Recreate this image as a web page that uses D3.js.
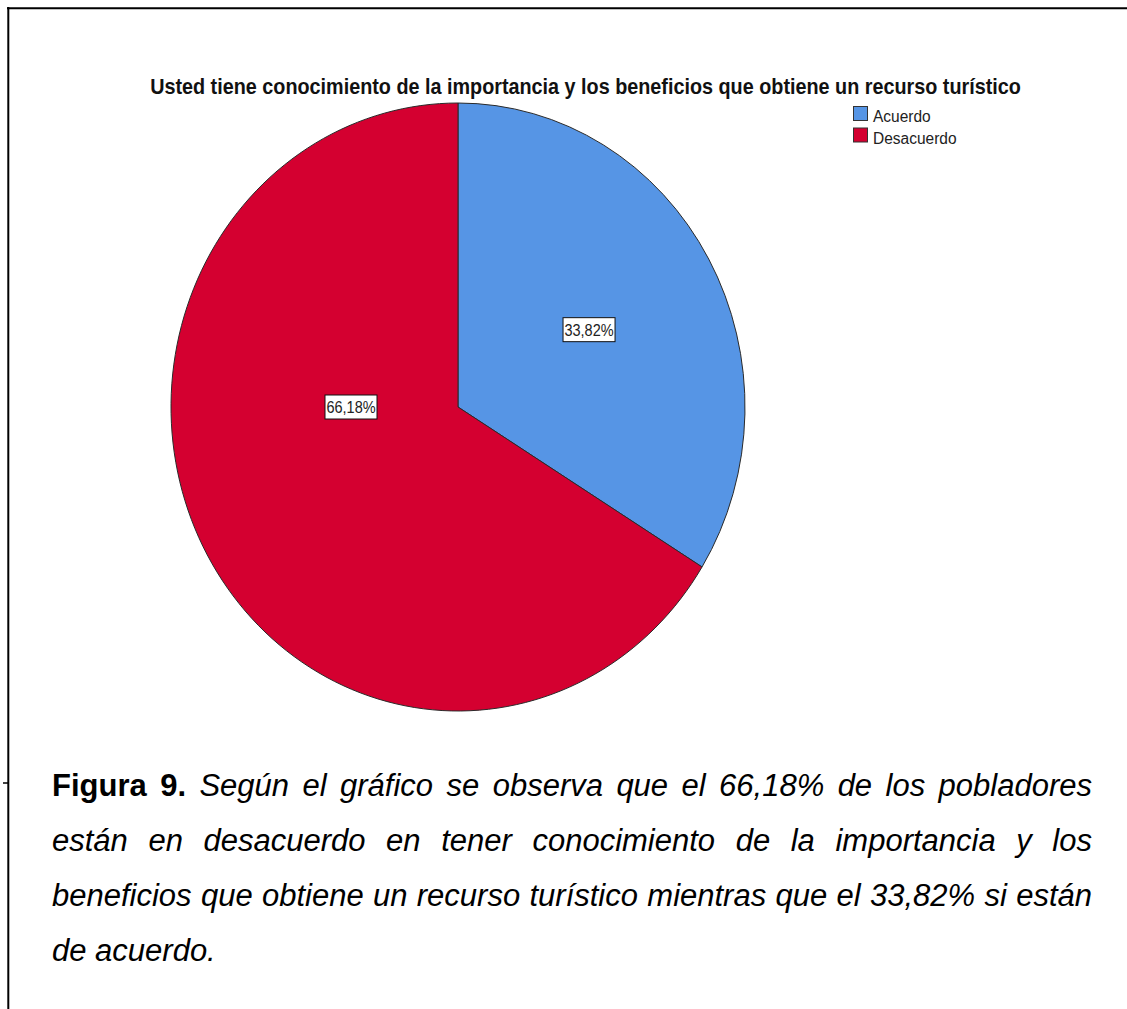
<!DOCTYPE html>
<html>
<head>
<meta charset="utf-8">
<script src="https://cdn.jsdelivr.net/npm/d3@7"></script>
<style>
  html, body { margin: 0; padding: 0; background: #fff; }
  svg { display: block; }
</style>
</head>
<body>
<svg id="chart" width="1127" height="1009"></svg>
<script>
// ---- data ----
const categories = ["Acuerdo", "Desacuerdo"];
const percentages = [33.82, 66.18];
const labelTexts = ["33,82%", "66,18%"];
const colors = ["#5695E5", "#D40030"];
const chartTitle = "Usted tiene conocimiento de la importancia y los beneficios que obtiene un recurso turístico";
const captionLines = [
  [{t: "Figura", b: true}, {t: "9.", b: true}, "Según", "el", "gráfico", "se", "observa", "que", "el", "66,18%", "de", "los", "pobladores"],
  ["están", "en", "desacuerdo", "en", "tener", "conocimiento", "de", "la", "importancia", "y", "los"],
  ["beneficios", "que", "obtiene", "un", "recurso", "turístico", "mientras", "que", "el", "33,82%", "si", "están"],
  ["de", "acuerdo."]
];

// ---- layout ----
const W = 1127, H = 1009;
const svg = d3.select("#chart");
const cx = 458, cy = 407, rx = 287, ry = 304;
const stretch = ry / rx;
const textStretch = 1.15;
const FONT = "'Liberation Sans', Arial, sans-serif";

// frame lines
svg.append("line").attr("x1", 7).attr("x2", W).attr("y1", 8.3).attr("y2", 8.3)
  .attr("stroke", "#000").attr("stroke-width", 2);
svg.append("line").attr("x1", 8.3).attr("x2", 8.3).attr("y1", 7).attr("y2", H)
  .attr("stroke", "#000").attr("stroke-width", 2);
svg.append("line").attr("x1", 3).attr("x2", 8).attr("y1", 783).attr("y2", 783)
  .attr("stroke", "#000").attr("stroke-width", 1.5);

// title
const title = svg.append("text")
  .attr("font-family", FONT).attr("font-weight", "bold").attr("font-size", 14)
  .attr("text-anchor", "middle").attr("fill", "#111")
  .text(chartTitle);
const tw = title.node().getComputedTextLength();
title.attr("font-size", 14 * 871 / tw)
  .attr("transform", `translate(585.5,94) scale(1,1.1)`);

// pie
const pie = d3.pie().sort(null).value(d => d)(percentages);
const arc = d3.arc().innerRadius(0).outerRadius(rx);
const pg = svg.append("g").attr("transform", `translate(${cx},${cy}) scale(1,${stretch})`);
pg.selectAll("path").data(pie).join("path")
  .attr("d", arc)
  .attr("fill", (d, i) => colors[i])
  .attr("stroke", "#2a2a2a")
  .attr("stroke-width", 1)
  .attr("vector-effect", "non-scaling-stroke");

// labels
const labelPlacement = [
  {angle: null, r: 150},          // slice middle angle
  {angle: 1.5 * Math.PI, r: 107}  // left side
];
pie.forEach((d, i) => {
  const p = labelPlacement[i];
  const a = p.angle === null ? (d.startAngle + d.endAngle) / 2 : p.angle;
  const x = cx + Math.sin(a) * p.r;
  const y = cy - Math.cos(a) * p.r * stretch;
  const g = svg.append("g").attr("transform", `translate(${x},${y})`);
  g.append("rect").attr("x", -26).attr("y", -12).attr("width", 52).attr("height", 24)
    .attr("fill", "#fff").attr("stroke", "#111").attr("stroke-width", 1);
  g.append("text").attr("font-family", FONT).attr("font-size", 14.5)
    .attr("text-anchor", "middle").attr("fill", "#222")
    .attr("transform", `translate(0,6) scale(1,${textStretch})`)
    .text(labelTexts[i]);
});

// legend
const lg = svg.append("g").attr("transform", "translate(853,106)");
categories.forEach((c, i) => {
  const row = lg.append("g").attr("transform", `translate(0,${i * 21.5})`);
  row.append("rect").attr("x", 0.5).attr("y", 0.5).attr("width", 14).attr("height", 14)
    .attr("fill", colors[i]).attr("stroke", "#333").attr("stroke-width", 1);
  row.append("text").attr("font-family", FONT).attr("font-size", 15.5).attr("fill", "#222")
    .attr("transform", `translate(20,16) scale(1,1.1)`)
    .text(c);
});

// caption (justified)
const capX0 = 52, capX1 = 1092, capY0 = 796, capDy = 55, capFS = 31;
captionLines.forEach((words, li) => {
  const items = words.map(w => typeof w === "string" ? {t: w, b: false} : w);
  const y = capY0 + li * capDy;
  const nodes = items.map(it => svg.append("text")
    .attr("font-family", FONT).attr("font-size", capFS).attr("fill", "#000")
    .attr("font-weight", it.b ? "bold" : "normal")
    .attr("font-style", it.b ? "normal" : "italic")
    .attr("y", y).text(it.t));
  const widths = nodes.map(n => n.node().getComputedTextLength());
  const total = d3.sum(widths);
  const last = li === captionLines.length - 1;
  const gap = last ? capFS * 0.278 : (capX1 - capX0 - total) / (items.length - 1);
  let x = capX0;
  nodes.forEach((n, i) => { n.attr("x", x); x += widths[i] + gap; });
});
</script>
</body>
</html>
